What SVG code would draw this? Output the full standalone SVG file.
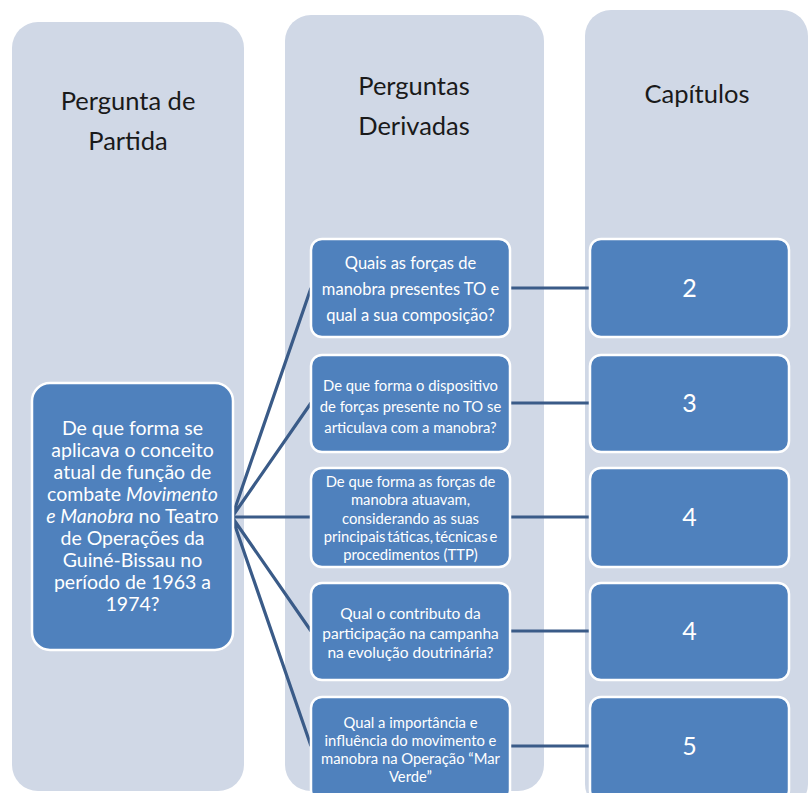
<svg xmlns="http://www.w3.org/2000/svg" width="810" height="793" viewBox="0 0 810 793">
<style>
.col{fill:#D0D8E6;}
.box{fill:#4F81BD;stroke:#FFFFFF;stroke-width:2.5;}
.hd{font-family:Lato,"Open Sans",sans-serif;font-size:25.5px;fill:#1a1a1a;text-anchor:middle;}
.t{font-family:Lato,"Open Sans",sans-serif;fill:#FFFFFF;text-anchor:middle;}
.m{font-size:19.5px;}
.l{font-size:16.5px;}
.s{font-size:15.5px;}
.xs{font-size:14.8px;}
.n{font-size:25px;}
.con{stroke:#3A5B88;stroke-width:3.2;fill:none;}
</style>
<rect width="810" height="793" fill="#FFFFFF"/>
<g id="col1"><rect class="col" x="12" y="22" width="232" height="769" rx="26"/><text class="hd" x="128" y="110">Pergunta de</text><text class="hd" x="128" y="150">Partida</text></g>
<g id="col2"><rect class="col" x="285" y="15" width="259" height="776" rx="26"/><text class="hd" x="414" y="95">Perguntas</text><text class="hd" x="414" y="135">Derivadas</text></g>
<g id="col3"><rect class="col" x="585" y="10" width="223" height="800" rx="26"/><text class="hd" x="697" y="103">Capítulos</text></g>
<g id="connectors">
<path class="con" d="M232 517 L311 288 M232 517 L311 403 M232 517 L311 517 M232 517 L311 631 M232 517 L311 746"/>
<path class="con" d="M510 288 H590 M510 403 H590 M510 517 H590 M510 631 H590 M510 746 H590"/>
</g>
<g id="main"><rect class="box" x="32" y="383" width="201" height="267" rx="18"/>
<text class="t m" x="132.5" y="435">De que forma se</text>
<text class="t m" x="132.5" y="457">aplicava o conceito</text>
<text class="t m" x="132.5" y="479">atual de função de</text>
<text class="t m" x="132.5" y="501">combate <tspan font-style="italic">Movimento</tspan></text>
<text class="t m" x="132.5" y="523"><tspan font-style="italic">e Manobra</tspan> no Teatro</text>
<text class="t m" x="132.5" y="545">de Operações da</text>
<text class="t m" x="132.5" y="567">Guiné-Bissau no</text>
<text class="t m" x="132.5" y="589">período de 1963 a</text>
<text class="t m" x="132.5" y="611">1974?</text>
</g>
<g id="q1"><rect class="box" x="311" y="239" width="199" height="98" rx="11"/>
<text class="t l" x="410.5" y="269">Quais as forças de</text>
<text class="t l" x="410.5" y="295">manobra presentes TO e</text>
<text class="t l" x="410.5" y="321">qual a sua composição?</text>
</g>
<g id="q2"><rect class="box" x="311" y="355" width="199" height="97" rx="11"/>
<text class="t xs" x="410.5" y="391">De que forma o dispositivo</text>
<text class="t xs" x="410.5" y="412">de forças presente no TO se</text>
<text class="t xs" x="410.5" y="433">articulava com a manobra?</text>
</g>
<g id="q3"><rect class="box" x="311" y="468" width="199" height="99" rx="11"/>
<text class="t xs" x="410.5" y="487">De que forma as forças de</text>
<text class="t xs" x="410.5" y="505">manobra atuavam,</text>
<text class="t xs" x="410.5" y="524">considerando as suas</text>
<text class="t xs" x="410.5" y="542" word-spacing="-2">principais táticas, técnicas e</text>
<text class="t xs" x="410.5" y="560">procedimentos (TTP)</text>
</g>
<g id="q4"><rect class="box" x="311" y="583" width="199" height="97" rx="11"/>
<text class="t s" x="410.5" y="619">Qual o contributo da</text>
<text class="t s" x="410.5" y="639">participação na campanha</text>
<text class="t s" x="410.5" y="658">na evolução doutrinária?</text>
</g>
<g id="q5"><rect class="box" x="311" y="697" width="199" height="104" rx="11"/>
<text class="t xs" x="410.5" y="728">Qual a importância e</text>
<text class="t xs" x="410.5" y="746">influência do movimento e</text>
<text class="t xs" x="410.5" y="764">manobra na Operação “Mar</text>
<text class="t xs" x="410.5" y="782">Verde”</text>
</g>
<g id="c1"><rect class="box" x="590" y="239" width="199" height="98" rx="11"/><text class="t n" x="689.5" y="297">2</text></g>
<g id="c2"><rect class="box" x="590" y="355" width="199" height="97" rx="11"/><text class="t n" x="689.5" y="412">3</text></g>
<g id="c3"><rect class="box" x="590" y="468" width="199" height="99" rx="11"/><text class="t n" x="689.5" y="526">4</text></g>
<g id="c4"><rect class="box" x="590" y="583" width="199" height="97" rx="11"/><text class="t n" x="689.5" y="640">4</text></g>
<g id="c5"><rect class="box" x="590" y="697" width="199" height="104" rx="11"/><text class="t n" x="689.5" y="755">5</text></g>
</svg>
